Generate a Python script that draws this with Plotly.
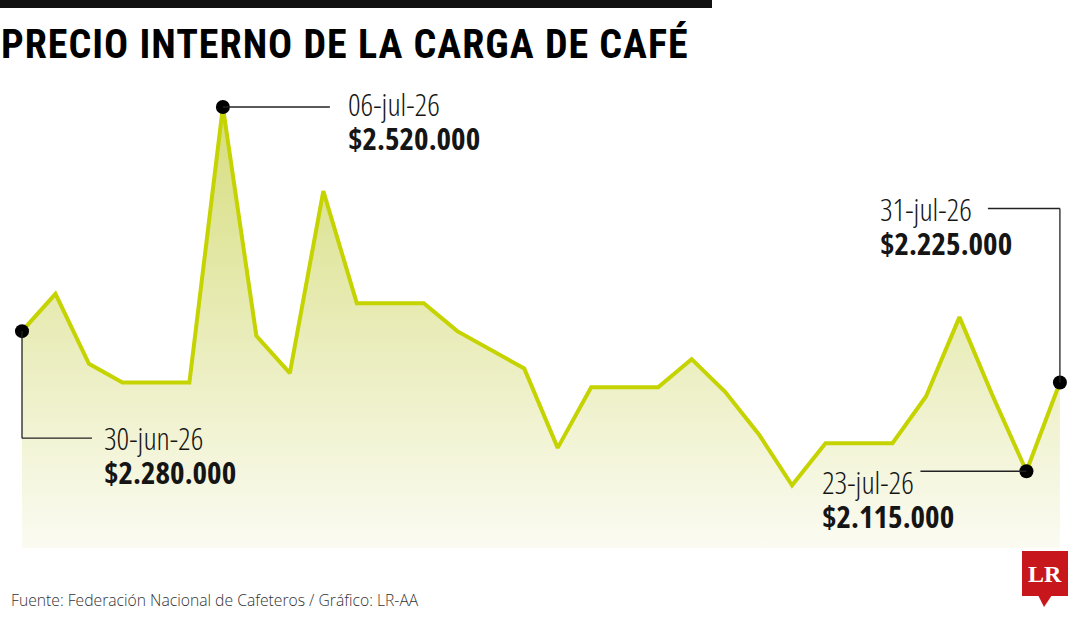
import plotly.graph_objects as go

# ---------------- data ----------------
dates = ["30-jun-26", "01-jul-26", "02-jul-26", "03-jul-26", "04-jul-26", "05-jul-26",
         "06-jul-26", "07-jul-26", "08-jul-26", "09-jul-26", "10-jul-26", "11-jul-26",
         "12-jul-26", "13-jul-26", "14-jul-26", "15-jul-26", "16-jul-26", "17-jul-26",
         "18-jul-26", "19-jul-26", "20-jul-26", "21-jul-26", "22-jul-26", "23-jul-26",
         "24-jul-26", "25-jul-26", "26-jul-26", "27-jul-26", "28-jul-26", "29-jul-26",
         "30-jul-26", "31-jul-26"]
prices = [2280000, 2320000, 2245000, 2225000, 2225000, 2225000,
          2520000, 2275000, 2235000, 2430000, 2310000, 2310000,
          2310000, 2280000, 2260000, 2240000, 2155000, 2220000,
          2220000, 2220000, 2250000, 2215000, 2170000, 2115000,
          2160000, 2160000, 2160000, 2210000, 2295000, 2210000,
          2130000, 2225000]

label_idx = [0, 6, 30, 31]
label_dates = ["30-jun-26", "06-jul-26", "23-jul-26", "31-jul-26"]
label_values = ["$2.280.000", "$2.520.000", "$2.115.000", "$2.225.000"]

title_text = "PRECIO INTERNO DE LA CARGA DE CAFÉ"
source_text = "Fuente: Federación Nacional de Cafeteros / Gráfico: LR-AA"

# ---------------- style / layout ----------------
W, H = 1080, 620
MB = 72
PLOT_H = H - MB
YRANGE = [2047800, 2634600]
XRANGE = [-0.657, 31.6]

LINE_COLOR = "#C5D300"
FONT = "Open Sans, Roboto Condensed, sans-serif"
TITLE_FONT = "Roboto Condensed, Open Sans, sans-serif"


def styled(txt, stretch="condensed", weight=None, size=None, spacing=None):
    st = f"font-stretch:{stretch}"
    if weight:
        st += f";font-weight:{weight}"
    if size:
        st += f";font-size:{size}px"
    if spacing:
        st += f";letter-spacing:{spacing}px"
    return f"<span style='{st}'>{txt}</span>"


# per-label placement (pixel offsets relative to the labelled point)
placement = [
    dict(dx=80, dy=-124, segs=[(0, 0, 0, -107), (0, -107, 70, -107)]),
    dict(dx=123, dy=-14, segs=[(0, 0, 107, 0)]),
    dict(dx=-206, dy=-28, segs=[(-106, 0, 0, 0)]),
    dict(dx=-182, dy=157, segs=[(0, 0, 0, 174), (-72, 174, 0, 174)]),
]


def py(px):
    return 1 - px / PLOT_H


fig = go.Figure()

fig.add_trace(go.Scatter(
    x=dates, y=prices, mode="lines",
    line=dict(color=LINE_COLOR, width=4),
    fill="tozeroy",
    fillgradient=dict(type="vertical",
                      colorscale=[[0, "rgba(251,251,242,1)"], [1, "rgb(214,221,125)"]],
                      start=YRANGE[0], stop=2520000),
    hoverinfo="skip",
))

fig.add_trace(go.Scatter(
    x=[dates[i] for i in label_idx], y=[prices[i] for i in label_idx],
    mode="markers", marker=dict(color="black", size=14),
    hoverinfo="skip",
))

shapes = []
annotations = []
for k, i in enumerate(label_idx):
    p = placement[k]
    for (x0, y0, x1, y1) in p["segs"]:
        shapes.append(dict(type="line", xref="x", yref="y",
                           xsizemode="pixel", ysizemode="pixel",
                           xanchor=i, yanchor=prices[i],
                           x0=x0, x1=x1, y0=y0, y1=y1,
                           line=dict(color="#222", width=1.3), layer="above"))
    txt = (styled(label_dates[k], weight=300, size=31)
           + "<br>" + styled("<b>" + label_values[k] + "</b>", size=31))
    annotations.append(dict(x=i, y=prices[i], xref="x", yref="y",
                            text=txt, showarrow=False, align="left",
                            xanchor="left", yanchor="middle",
                            xshift=p["dx"], yshift=p["dy"],
                            font=dict(family=FONT, size=26, color="#151515")))

# title & source
annotations.append(dict(xref="paper", yref="paper", x=0, y=py(45), xanchor="left",
                        yanchor="middle", showarrow=False, xshift=-1,
                        text=styled("<b>" + title_text + "</b>", stretch="normal", spacing=1),
                        font=dict(family=TITLE_FONT, size=40, color="#000")))
annotations.append(dict(xref="paper", yref="paper", x=9 / W, y=py(600), xanchor="left",
                        yanchor="middle", showarrow=False,
                        text=styled(source_text, stretch="normal", weight=300),
                        font=dict(family=FONT, size=15.7, color="#333")))
# LR logo
shapes.append(dict(type="rect", xref="paper", yref="paper",
                   x0=1022 / W, x1=1068 / W, y0=py(596), y1=py(551),
                   fillcolor="#C8161D", line=dict(width=0)))
shapes.append(dict(type="path", xref="paper", yref="paper",
                   path=f"M {1038/W},{py(595)} L {1052/W},{py(595)} L {1044/W},{py(607)} Z",
                   fillcolor="#C8161D", line=dict(width=0)))
annotations.append(dict(xref="paper", yref="paper", x=1045 / W, y=py(574),
                        xanchor="center", yanchor="middle", showarrow=False,
                        text="<b>LR</b>",
                        font=dict(family="Liberation Serif, DejaVu Serif, serif",
                                  size=24, color="white")))
# top bar
shapes.append(dict(type="rect", xref="paper", yref="paper",
                   x0=0, x1=712 / W, y0=py(8), y1=py(-2),
                   fillcolor="#111", line=dict(width=0)))

fig.update_layout(
    width=W, height=H,
    margin=dict(l=0, r=0, t=0, b=MB),
    paper_bgcolor="white", plot_bgcolor="white",
    showlegend=False,
    xaxis=dict(visible=False, range=XRANGE, type="category"),
    yaxis=dict(visible=False, range=YRANGE),
    shapes=shapes, annotations=annotations,
)

fig.write_html("out.html", config={"displayModeBar": False},
               post_script="document.body.style.margin='0';")
